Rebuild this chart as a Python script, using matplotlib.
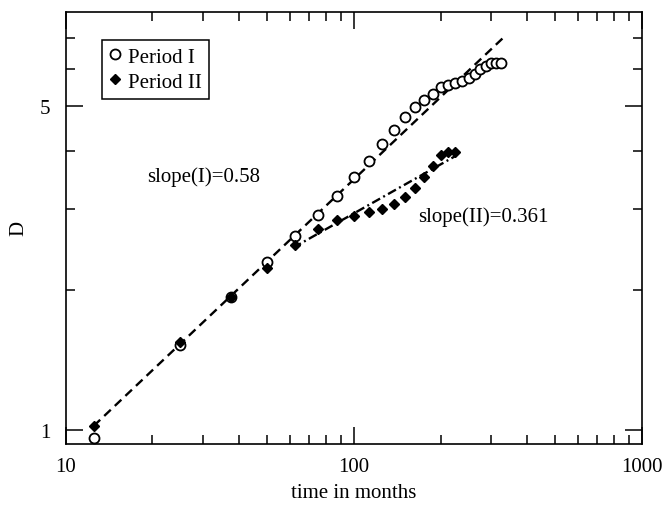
import numpy as np
import matplotlib
matplotlib.use("Agg")
import matplotlib.pyplot as plt
from matplotlib.ticker import FixedLocator, FixedFormatter, LogLocator, NullFormatter

# data (time in months, D)
t_I = [12.5, 25, 37.5, 50, 62.5, 75, 87.5, 100, 112.5, 125, 137.5, 150, 162.5,
       175, 187.5, 200, 212.5, 225, 237.5, 250, 262.5, 275, 287.5, 300, 312.5, 325]
D_I = [0.961, 1.523, 1.938, 2.304, 2.618, 2.912, 3.199, 3.502, 3.809, 4.13, 4.435,
       4.72, 4.96, 5.143, 5.30, 5.478, 5.54, 5.587, 5.65, 5.727, 5.85, 5.99, 6.087,
       6.167, 6.186, 6.186]

t_II = [12.5, 25, 37.5, 50, 62.5, 75, 87.5, 100, 112.5, 125, 137.5, 150, 162.5,
        175, 187.5, 200, 212.5, 225]
D_II = [1.019, 1.548, 1.938, 2.237, 2.51, 2.713, 2.83, 2.887, 2.944, 2.995, 3.074,
        3.178, 3.323, 3.502, 3.71, 3.918, 3.983, 3.983]

# fitted power laws (end points of the straight lines in log-log)
fit_I_t = [12.5, 328]
fit_I_D = [1.02, 6.98]
fit_II_t = [61.5, 223.7]
fit_II_D = [2.47, 3.886]

plt.rcParams['font.family'] = ['Liberation Serif', 'DejaVu Serif']
plt.rcParams['lines.scale_dashes'] = False

fig = plt.figure(figsize=(6.65, 5.1), dpi=100)
ax = fig.add_axes([0.0988, 0.1284, 0.8666, 0.8456])

ax.plot(fit_I_t, fit_I_D, color='black', lw=1.7, ls=(0, (6.5, 4.0)))
ax.plot(fit_II_t, fit_II_D, color='black', lw=1.7, ls=(0, (6.5, 2.6, 1.4, 2.6)))
ax.plot(t_I, D_I, ls='none', marker='o', ms=7.2, mfc='white', mec='black',
        mew=1.3, label='Period I')
ax.plot(t_II, D_II, ls='none', marker='D', ms=5.4, mfc='black', mec='black',
        label='Period II')

ax.set_xscale('log')
ax.set_yscale('log')
ax.set_xlim(10, 1000)
ax.set_ylim(0.935, 7.95)

ax.xaxis.set_major_locator(FixedLocator([10, 100, 1000]))
ax.xaxis.set_major_formatter(FixedFormatter(['10', '100', '1000']))
ax.xaxis.set_minor_locator(LogLocator(base=10, subs=np.arange(2, 10)))
ax.xaxis.set_minor_formatter(NullFormatter())
ax.yaxis.set_major_locator(FixedLocator([1, 5]))
ax.yaxis.set_major_formatter(FixedFormatter(['1', '5']))
ax.yaxis.set_minor_locator(LogLocator(base=10, subs=np.arange(2, 10)))
ax.yaxis.set_minor_formatter(NullFormatter())

ax.tick_params(which='both', direction='in', top=True, right=True, width=1.1,
               labelsize=15)
ax.tick_params(which='major', length=12.5)
ax.tick_params(which='minor', length=6.3)
ax.tick_params(axis='x', which='major', pad=10)
ax.tick_params(axis='y', which='major', pad=11)
for s in ax.spines.values():
    s.set_linewidth(1.2)

ax.set_xlabel('time in months', fontsize=15, labelpad=5)
ax.set_ylabel('D', fontsize=15)
ax.yaxis.set_label_coords(-0.064, 0.5)

ax.text(19.2, 3.52, 'slope(I)=0.58', fontsize=15, ha='left', va='center')
ax.text(167, 2.887, 'slope(II)=0.361', fontsize=15, ha='left', va='center')

leg = ax.legend(loc='upper left', bbox_to_anchor=(0.063, 0.936), borderaxespad=0,
                fontsize=15, frameon=True, fancybox=False, framealpha=1,
                edgecolor='black', handlelength=0.5, handletextpad=0.4,
                labelspacing=0.25, borderpad=0.35)
leg.get_frame().set_linewidth(1.1)

fig.savefig('out.png', dpi=100)
